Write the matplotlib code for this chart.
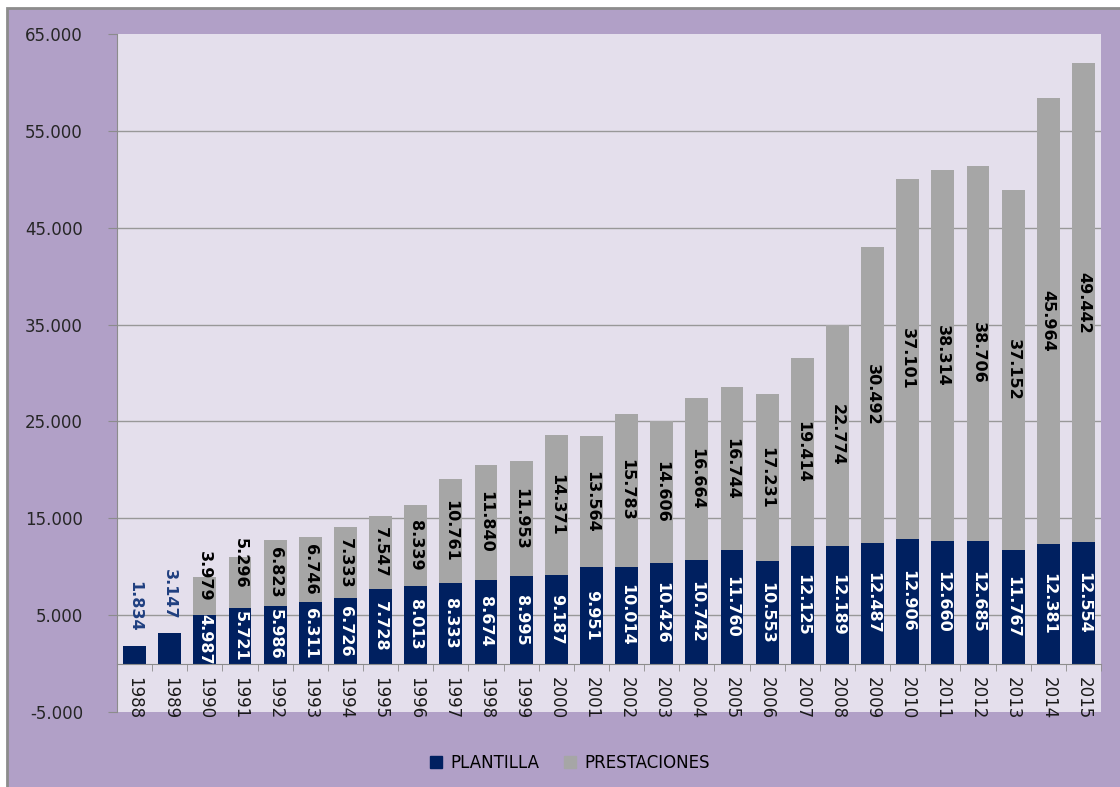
import numpy as np
import matplotlib.pyplot as plt
from matplotlib.patches import Rectangle, Patch
from matplotlib.ticker import FuncFormatter

# Datos
years = [str(y) for y in range(1988, 2016)]
plantilla = [1834, 3147, 4987, 5721, 5986, 6311, 6726, 7728, 8013, 8333,
             8674, 8995, 9187, 9951, 10014, 10426, 10742, 11760, 10553, 12125,
             12189, 12487, 12906, 12660, 12685, 11767, 12381, 12554]
prestaciones = [0, 0, 3979, 5296, 6823, 6746, 7333, 7547, 8339, 10761,
                11840, 11953, 14371, 13564, 15783, 14606, 16664, 16744, 17231, 19414,
                22774, 30492, 37101, 38314, 38706, 37152, 45964, 49442]

navy = '#002060'
grey = '#A6A6A6'
purple = '#B1A0C7'
plot_bg = '#E4DFEC'
axis_grey = '#8C8C8C'


def miles(v, pos=None):
    return f"{int(v):,}".replace(',', '.')


W, H = 1120, 787
fig = plt.figure(figsize=(W / 100, H / 100), dpi=100, facecolor='white')
fig.patches.append(Rectangle((7 / W, -0.1), 1.2, 1.1 - 8 / H, transform=fig.transFigure,
                             facecolor=purple, edgecolor=axis_grey, lw=2, zorder=-1))

ax = fig.add_axes([117 / W, 75 / H, 984 / W, 678 / H])
ax.set_zorder(2)
ax.set_facecolor(plot_bg)

x = np.arange(len(years))
ax.bar(x, plantilla, width=0.65, color=navy, zorder=3)
ax.bar(x, prestaciones, bottom=plantilla, width=0.65, color=grey, zorder=3)

# Etiquetas de valores (1990 y 1991 desplazadas hacia arriba, como en el original)
nudge = {2: 2000, 3: 2000}
for i in x:
    p, q = plantilla[i], prestaciones[i]
    if q == 0:
        ax.annotate(miles(p), (i, p), xytext=(0, 10), textcoords='offset points',
                    rotation=-90, ha='center', va='bottom', color='#1F3F80',
                    fontsize=11.5, fontweight='bold', zorder=5)
        continue
    ax.text(i, p / 2, miles(p), rotation=-90, ha='center', va='center',
            color='white', fontsize=11.5, fontweight='bold', zorder=5)
    ax.text(i, p + q / 2 + nudge.get(i, 0), miles(q), rotation=-90, ha='center',
            va='center', color='black', fontsize=11.5, fontweight='bold', zorder=5)

# Ejes
ax.set_xlim(-0.5, len(years) - 0.5)
ax.set_ylim(-5000, 65000)
ax.set_yticks(range(-5000, 65001, 10000))
ax.yaxis.set_major_formatter(FuncFormatter(miles))
for g in range(5000, 60000, 10000):
    ax.axhline(g, color='#989898', lw=1, zorder=1)

for side in ['top', 'right']:
    ax.spines[side].set_visible(False)
ax.spines['left'].set_color(axis_grey)
ax.spines['bottom'].set_color(axis_grey)
ax.spines['bottom'].set_position(('data', 0))
ax.spines['bottom'].set_zorder(4)

ax.set_xticks(x)
ax.set_xticklabels(years, rotation=-90, fontsize=12, color='#1a1a1a')
ax.set_xticks(np.arange(-0.5, len(years)), minor=True)
ax.tick_params(axis='x', which='major', length=0, pad=9.5)
ax.tick_params(axis='x', which='minor', length=5, color=axis_grey, direction='out')
ax.tick_params(axis='y', length=6.5, color=axis_grey, pad=18, labelsize=12,
               labelcolor='#262626')

handles = [Patch(color=navy, label='PLANTILLA'), Patch(color=grey, label='PRESTACIONES')]
fig.legend(handles=handles, loc='center', bbox_to_anchor=(570 / W, 1 - 763 / H), ncol=2,
           frameon=False, fontsize=12, handlelength=0.7, handleheight=0.7,
           handletextpad=0.5, columnspacing=1.5)

fig.savefig('out.png', dpi=100, facecolor=fig.get_facecolor())
